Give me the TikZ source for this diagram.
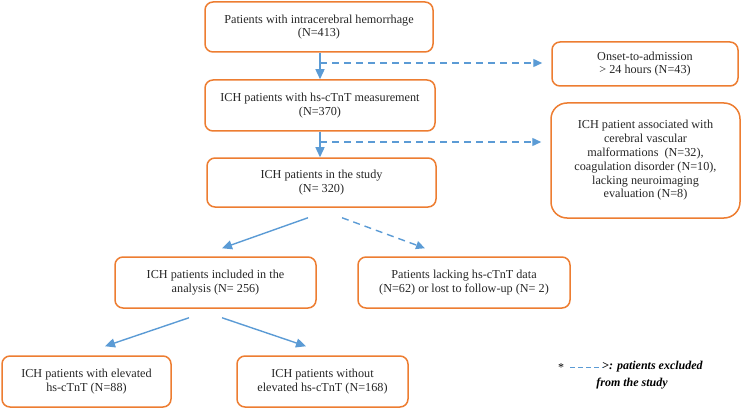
\documentclass[tikz,border=0pt]{standalone}
\usepackage{fontspec}
\setmainfont{Liberation Serif}
\usetikzlibrary{arrows.meta,calc}
\definecolor{boxorange}{RGB}{237,125,49}
\definecolor{arrowblue}{RGB}{91,155,213}
\begin{document}
\begin{tikzpicture}[x=1pt,y=-1pt,
  box/.style={draw=boxorange, line width=1.5pt, rounded corners=8pt, align=center,
    inner sep=0pt, font=\fontsize{12.2}{13.8}\selectfont, text=black!85},
  solidarrow/.style={draw=arrowblue, line width=1.4pt, -{Triangle[length=10pt,width=9pt]}},
  dasharrow/.style={draw=arrowblue, line width=1.4pt, -{Triangle[length=9pt,width=8pt]}, dash pattern=on 7pt off 5pt}]
\useasboundingbox (0,0) rectangle (744,409);

\node[box, minimum width=228, minimum height=50] (b1) at (319,27) {Patients with intracerebral hemorrhage\\(N=413)};
\node[box, minimum width=230, minimum height=51] (b2) at (320,105.5) {ICH patients with hs-cTnT measurement\\(N=370)};
\node[box, minimum width=229, minimum height=49] (b3) at (321.5,182.5) {ICH patients in the study\\(N= 320)};
\node[box, minimum width=186, minimum height=44] (r1) at (645,64) {Onset-to-admission\\> 24 hours (N=43)};
\node[box, rounded corners=16pt, minimum width=189, minimum height=115] (r2) at (645.5,160.5) {ICH patient associated with\\cerebral vascular\\malformations\ \ (N=32),\\coagulation disorder (N=10),\\lacking neuroimaging\\evaluation (N=8)};
\node[box, minimum width=201, minimum height=51] (b4) at (215.5,282.5) {ICH patients included in the\\analysis (N= 256)};
\node[box, minimum width=212, minimum height=51] (b5) at (464,282.5) {Patients lacking hs-cTnT data\\(N=62) or lost to follow-up (N= 2)};
\node[box, minimum width=169, minimum height=51] (b6) at (86.5,381.5) {ICH patients with elevated\\hs-cTnT (N=88)};
\node[box, minimum width=171, minimum height=51] (b7) at (322.5,381.5) {ICH patients without\\elevated hs-cTnT (N=168)};

\coordinate (c1) at (320,63);
\coordinate (c2) at (320,142);

\draw[solidarrow] (b1.south -| b2.north) -- (b2.north);
\draw[solidarrow] (b2.south) -- (b2.south |- b3.north);
\draw[dasharrow, shorten >=9pt] (c1) -- (r1.west |- c1);
\draw[dasharrow, shorten >=9pt] (c2) -- (r2.west |- c2);

\draw[solidarrow] ($(b3.south)+(-13.5,10)$) -- ($(b4.north)+(6.5,-8)$);
\draw[dasharrow] ($(b3.south)+(20.5,10)$) -- ($(b5.north)+(-39,-8)$);
\draw[solidarrow] ($(b4.south)+(-26.5,9)$) -- ($(b6.north)+(18.5,-9)$);
\draw[solidarrow] ($(b4.south)+(6.5,9)$) -- ($(b7.north)+(-16.5,-9)$);

% legend
\node[font=\fontsize{12}{14}\selectfont, inner sep=0pt] (star) at (561,368) {*};
\coordinate (l1) at (570,367);
\coordinate (l2) at (603,367);
\draw[arrowblue, line width=1pt, dash pattern=on 5pt off 3pt] (l1) -- (l2);
\node[font=\fontsize{12}{14}\selectfont\bfseries\itshape, inner sep=0pt, anchor=west] (lt1) at (602,367) {>: patients excluded};
\node[font=\fontsize{12}{14}\selectfont\bfseries\itshape, inner sep=0pt] (lt2) at (632,384) {from the study};
\end{tikzpicture}
\end{document}
